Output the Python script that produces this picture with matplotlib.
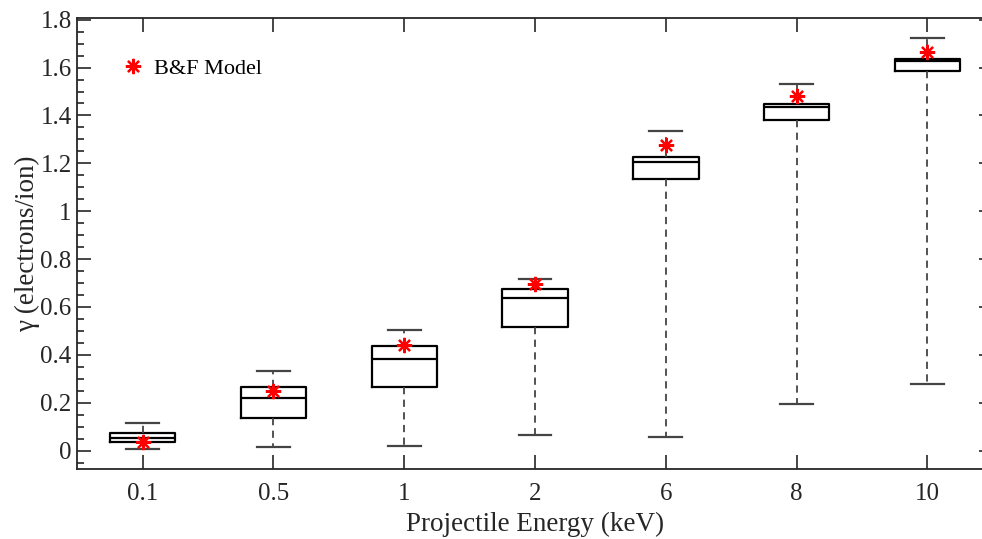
import matplotlib

matplotlib.use("Agg")
import matplotlib.pyplot as plt
from matplotlib.ticker import MultipleLocator

# projectile energies (keV) and box statistics of gamma (electrons/ion)
energies = ["0.1", "0.5", "1", "2", "6", "8", "10"]
whis_lo = [0.007, 0.017, 0.020, 0.067, 0.056, 0.196, 0.277]
q1 = [0.035, 0.137, 0.266, 0.515, 1.135, 1.380, 1.587]
median = [0.054, 0.220, 0.382, 0.637, 1.205, 1.437, 1.628]
q3 = [0.073, 0.267, 0.437, 0.674, 1.225, 1.448, 1.637]
whis_hi = [0.116, 0.333, 0.504, 0.718, 1.333, 1.533, 1.723]
bf_model = [0.038, 0.247, 0.443, 0.695, 1.276, 1.483, 1.664]

plt.rcParams["font.family"] = ["Liberation Serif", "DejaVu Serif"]

fig = plt.figure(figsize=(9.82, 5.39), dpi=100)
W, H = 982, 539
ax = fig.add_axes([77.3 / W, (H - 469.3) / H, 915.5 / W, 451.3 / H])

stats = []
for i, lab in enumerate(energies):
    stats.append(dict(label=lab, whislo=whis_lo[i], q1=q1[i], med=median[i],
                      q3=q3[i], whishi=whis_hi[i], fliers=[]))
pos = list(range(1, len(energies) + 1))
ax.bxp(stats, positions=pos, widths=0.5, showfliers=False,
       boxprops=dict(color="black", lw=1.6),
       medianprops=dict(color="black", lw=1.6),
       whiskerprops=dict(color="#444444", lw=1.3, ls=(0, (4, 3))),
       capprops=dict(color="#444444", lw=1.6),
       capwidths=0.25)

ax.plot(pos, bf_model, ls="none", marker=(8, 2, 0), color="red",
        markersize=11, mew=1.6, label="B&F Model", zorder=5)

ax.set_xlim(0.5, 7.5)
ax.set_xticks(pos)
ax.set_xticklabels(energies)
ax.yaxis.set_major_locator(MultipleLocator(0.2))
ax.yaxis.set_minor_locator(MultipleLocator(0.05))
ax.set_ylim(-0.078, 1.807)
ax.yaxis.set_major_formatter(lambda v, p: "0" if abs(v) < 1e-9 else
                             ("1" if abs(v - 1) < 1e-9 else f"{v:g}"))
ax.tick_params(axis="both", which="major", direction="in", length=10, width=1.2,
               labelsize=18, top=True, right=True, colors="#262626")
ax.tick_params(axis="y", which="major", pad=4)
ax.tick_params(axis="y", which="minor", direction="in", length=5, width=1.2,
               right=False, colors="#262626")
ax.tick_params(axis="x", which="major", pad=10)
for s in ax.spines.values():
    s.set_linewidth(1.3)
    s.set_color("#262626")

ax.set_xlabel("Projectile Energy (keV)", fontsize=19.5, labelpad=5, color="#262626")
ax.set_ylabel("γ (electrons/ion)", fontsize=19.5, labelpad=0, color="#262626")

ax.legend(loc="upper left", bbox_to_anchor=(0.027, 0.955), frameon=False,
          fontsize=16, handletextpad=0.45, handlelength=1.0)

fig.savefig("out.png", dpi=100)
